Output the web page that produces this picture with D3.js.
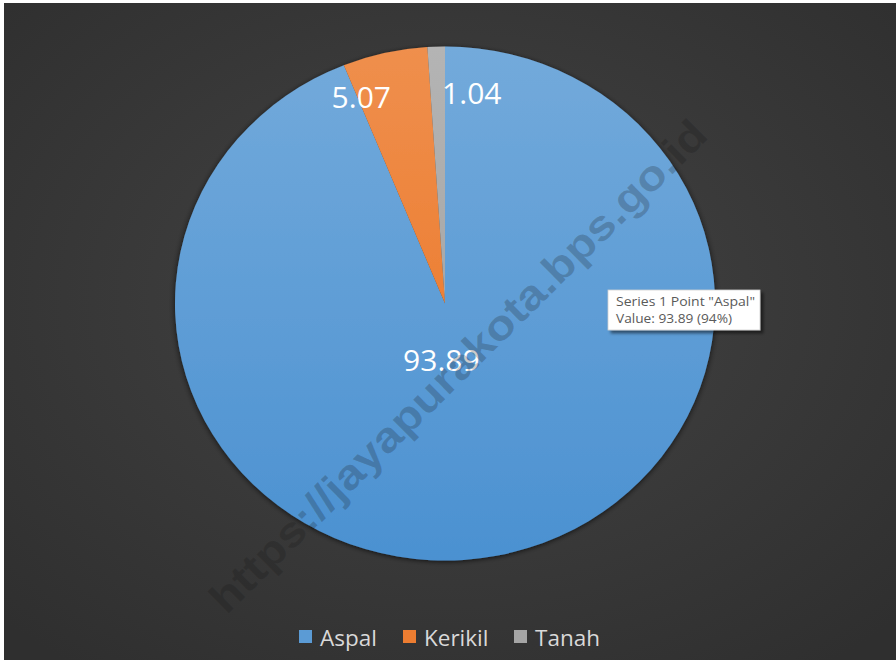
<!DOCTYPE html>
<html><head><meta charset="utf-8">
<script src="https://cdn.jsdelivr.net/npm/d3@7"></script>
<style>html,body{margin:0;padding:0;background:#fff;}svg{display:block;}</style>
</head><body>
<svg id="chart" width="896" height="660"></svg>
<script>
const categories = ["Aspal", "Kerikil", "Tanah"];
const values = [93.89, 5.07, 1.04];
const labelTexts = ["93.89", "5.07", "1.04"];
const colors = ["#5b9bd5", "#ed7d31", "#a5a5a5"];
const seriesName = "Series 1";

const W = 896, H = 660;
const svg = d3.select("#chart");
const defs = svg.append("defs");

// background
const bg = defs.append("radialGradient").attr("id","bg").attr("cx","50%").attr("cy","45%").attr("r","70%");
bg.append("stop").attr("offset","0%").attr("stop-color","#444444");
bg.append("stop").attr("offset","100%").attr("stop-color","#2f2f2f");
svg.append("rect").attr("width",W).attr("height",H).attr("fill","#fff");
svg.append("rect").attr("x",4).attr("y",3).attr("width",W-4).attr("height",H-3).attr("fill","url(#bg)");

// slice gradients
function shade(c, k){ const h = d3.hsl(c); h.l = Math.min(1, h.l + k); return h.formatHex(); }
colors.forEach((c,i)=>{
  const g = defs.append("linearGradient").attr("id","g"+i).attr("gradientUnits","userSpaceOnUse")
    .attr("x1",0).attr("y1",-270).attr("x2",0).attr("y2",270);
  g.append("stop").attr("offset","0%").attr("stop-color", shade(c, 0.06));
  g.append("stop").attr("offset","100%").attr("stop-color", shade(c, -0.04));
});
const sh = defs.append("filter").attr("id","pshadow").attr("x","-10%").attr("y","-10%").attr("width","120%").attr("height","120%");
sh.append("feGaussianBlur").attr("in","SourceAlpha").attr("stdDeviation",3);
sh.append("feOffset").attr("dx",0).attr("dy",1).attr("result","b");
sh.append("feComponentTransfer").append("feFuncA").attr("type","linear").attr("slope",0.7);
const m = sh.append("feMerge"); m.append("feMergeNode"); m.append("feMergeNode").attr("in","SourceGraphic");

const cx = 445, cy = 303.5, rx = 270, ry = 257;
const pie = d3.pie().sort(null).value(d=>d);
const arcs = pie(values);
const arc = d3.arc().innerRadius(0).outerRadius(rx);

const pg = svg.append("g").attr("transform",`translate(${cx},${cy}) scale(1,${ry/rx})`).attr("filter","url(#pshadow)");
pg.selectAll("path").data(arcs).join("path")
  .attr("d", arc).attr("fill",(d,i)=>`url(#g${i})`);

// data labels (Excel best-fit placement: polar radius fraction + nudge)
const labelPlace = [
  {r:0.22, dx:-15, dy:0},
  {r:0.86, dx:-32, dy:8},
  {r:0.82, dx:34, dy:0}
];
const la = d3.arc();
svg.append("g").selectAll("text").data(arcs).join("text")
  .attr("x",(d,i)=>{ const r=rx*labelPlace[i].r; const p=la.innerRadius(r).outerRadius(r).centroid(d); return cx+p[0]+labelPlace[i].dx; })
  .attr("y",(d,i)=>{ const r=rx*labelPlace[i].r; const p=la.innerRadius(r).outerRadius(r).centroid(d); return cy+p[1]*ry/rx+labelPlace[i].dy; })
  .attr("text-anchor","middle").attr("dominant-baseline","central")
  .attr("font-family","'Open Sans', sans-serif").attr("font-size",30)
  .attr("fill","#ffffff").text((d,i)=>labelTexts[i]);

// watermark
svg.append("text").attr("transform","translate(458,366) rotate(-44.7)")
  .attr("text-anchor","middle").attr("dominant-baseline","central")
  .attr("font-family","'Liberation Sans', Arial, sans-serif").attr("font-weight","bold")
  .attr("font-size",42).attr("textLength",680).attr("lengthAdjust","spacingAndGlyphs")
  .attr("fill","rgba(20,20,20,0.22)").text("https://jayapurakota.bps.go.id");

// tooltip
const tf = defs.append("filter").attr("id","tshadow").attr("x","-10%").attr("y","-20%").attr("width","130%").attr("height","150%");
tf.append("feGaussianBlur").attr("in","SourceAlpha").attr("stdDeviation",1.5);
tf.append("feOffset").attr("dx",3).attr("dy",3).attr("result","b");
tf.append("feComponentTransfer").append("feFuncA").attr("type","linear").attr("slope",0.5);
const tm = tf.append("feMerge"); tm.append("feMergeNode"); tm.append("feMergeNode").attr("in","SourceGraphic");
const tg = svg.append("g").attr("transform","translate(608,290)");
tg.append("rect").attr("width",152).attr("height",40).attr("fill","#ffffff").attr("stroke","#cfcfcf").attr("stroke-width",0.8).attr("filter","url(#tshadow)");
const pct = Math.round(values[0]/d3.sum(values)*100);
tg.append("text").attr("x",8).attr("y",16).attr("font-family","'Open Sans', sans-serif").attr("font-size",13.5).attr("fill","#5a5a5a")
  .attr("textLength",139).attr("lengthAdjust","spacingAndGlyphs")
  .text(`${seriesName} Point "${categories[0]}"`);
tg.append("text").attr("x",8).attr("y",33).attr("font-family","'Open Sans', sans-serif").attr("font-size",13.5).attr("fill","#5a5a5a")
  .attr("textLength",116).attr("lengthAdjust","spacingAndGlyphs")
  .text(`Value: ${values[0]} (${pct}%)`);

// legend
const lg = svg.append("g").attr("transform","translate(0,637)");
const legX = [299, 403, 514];
const items = lg.selectAll("g").data(categories).join("g").attr("transform",(d,i)=>`translate(${legX[i]},0)`);
items.append("rect").attr("x",0).attr("y",-7).attr("width",13).attr("height",13).attr("fill",(d,i)=>colors[i]);
items.append("text").attr("x",21).attr("y",0).attr("dominant-baseline","central")
  .attr("font-family","'Open Sans', sans-serif").attr("font-size",22.5).attr("fill","#d9d9d9").text(d=>d);
</script>
</body></html>
